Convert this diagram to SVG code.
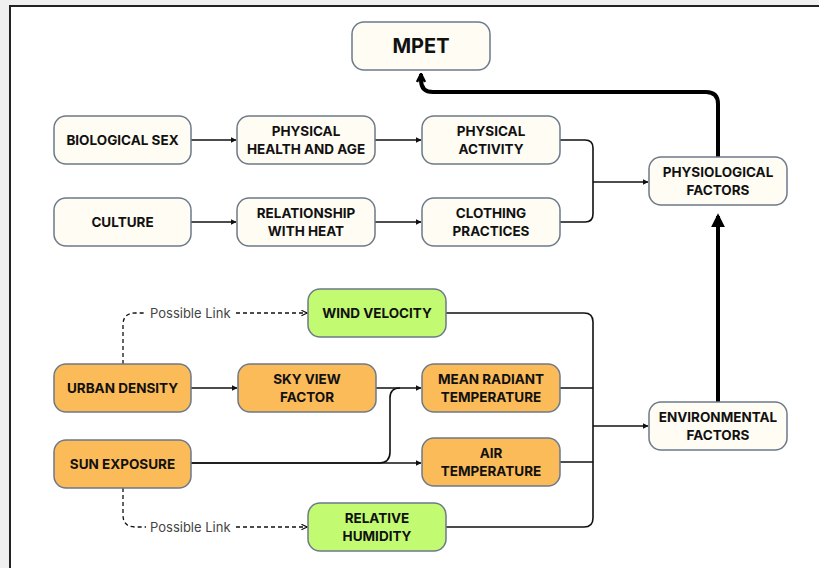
<svg xmlns="http://www.w3.org/2000/svg" width="819" height="568" viewBox="0 0 819 568">
<defs>
<style>
.n{stroke:#6c7a89;stroke-width:1.5}
.c{fill:#fffcf4}
.o{fill:#fbbb58}
.g{fill:#c2fb72}
.t{font-family:Inter,"Liberation Sans",Arial,sans-serif;font-weight:700;font-size:13.5px;fill:#111;text-anchor:middle}
.l{fill:none;stroke:#111;stroke-width:1.6}
.k{fill:none;stroke:#000;stroke-width:4}
.d{fill:none;stroke:#111;stroke-width:1.3;stroke-dasharray:4 3}
.p{font-family:Inter,"Liberation Sans",Arial,sans-serif;font-size:13px;fill:#444}
</style>
<marker id="a" viewBox="0 0 10 10" refX="9" refY="5" markerWidth="6" markerHeight="6" markerUnits="userSpaceOnUse" orient="auto"><path d="M0,0L10,5L0,10z" fill="#111"/></marker>
<marker id="b" viewBox="0 0 10 10" refX="8" refY="5" markerWidth="14" markerHeight="14" markerUnits="userSpaceOnUse" orient="auto"><path d="M0,0L10,5L0,10z" fill="#000"/></marker>
<marker id="v" viewBox="0 0 10 10" refX="9" refY="5" markerWidth="10" markerHeight="10" markerUnits="userSpaceOnUse" orient="auto"><path d="M1,1L9,5L1,9" fill="none" stroke="#000" stroke-width="2.5"/></marker>
<marker id="dv" viewBox="0 0 10 10" refX="9" refY="5" markerWidth="7" markerHeight="7" markerUnits="userSpaceOnUse" orient="auto"><path d="M1,1L9,5L1,9" fill="none" stroke="#111" stroke-width="1.6"/></marker>
</defs>
<rect width="819" height="568" fill="#f0f0f0"/>
<rect x="10" y="6" width="820" height="580" fill="#fff" stroke="#222" stroke-width="2"/>
<g id="connectors">
<path class="l" d="M191,140H236" marker-end="url(#a)"/>
<path class="l" d="M375,140H421" marker-end="url(#a)"/>
<path class="l" d="M191,222H236" marker-end="url(#a)"/>
<path class="l" d="M375,222H421" marker-end="url(#a)"/>
<path class="l" d="M560,140H585Q593,140 593,148V214Q593,222 585,222H560"/>
<path class="l" d="M593,182H648" marker-end="url(#a)"/>
<path class="k" d="M718,157V104Q718,92 706,92H433Q421,92 421,80V74" marker-end="url(#v)"/>
<path class="k" d="M718,402V216" marker-end="url(#b)"/>
<path class="l" d="M191,388H237" marker-end="url(#a)"/>
<path class="l" d="M376,388H421" marker-end="url(#a)"/>
<path class="l" d="M191,463H379Q390,463 390,452V398Q390,388 400,388"/>
<path class="l" d="M191,463H421" marker-end="url(#a)"/>
<path class="l" d="M446,313H584Q593,313 593,322V518Q593,527 584,527H446"/>
<path class="l" d="M560,388H593"/>
<path class="l" d="M560,462H593"/>
<path class="l" d="M593,426H648" marker-end="url(#a)"/>
<path class="d" d="M123,364V325Q123,313 135,313H146"/>
<path class="d" d="M236,313H307" marker-end="url(#dv)"/>
<path class="d" d="M123,488V515Q123,527 135,527H146"/>
<path class="d" d="M236,527H307" marker-end="url(#dv)"/>
<text class="p" x="150" y="317.5">Possible Link</text>
<text class="p" x="150" y="531.5">Possible Link</text>
</g>
<g id="mpet"><rect class="n c" x="352" y="22" width="138" height="48" rx="12"/><text class="t" x="421" y="53" style="font-size:20px">MPET</text></g>
<g id="biosex"><rect class="n c" x="54" y="116" width="137" height="48" rx="12"/><text class="t" x="122.5" y="145">BIOLOGICAL SEX</text></g>
<g id="health"><rect class="n c" x="237" y="116" width="138" height="48" rx="12"/><text class="t" x="306" y="136">PHYSICAL</text><text class="t" x="306" y="154">HEALTH AND AGE</text></g>
<g id="activity"><rect class="n c" x="422" y="116" width="138" height="48" rx="12"/><text class="t" x="491" y="136">PHYSICAL</text><text class="t" x="491" y="154">ACTIVITY</text></g>
<g id="culture"><rect class="n c" x="54" y="198" width="137" height="48" rx="12"/><text class="t" x="122.5" y="227">CULTURE</text></g>
<g id="relationship"><rect class="n c" x="237" y="198" width="138" height="48" rx="12"/><text class="t" x="306" y="218">RELATIONSHIP</text><text class="t" x="306" y="236">WITH HEAT</text></g>
<g id="clothing"><rect class="n c" x="422" y="198" width="138" height="48" rx="12"/><text class="t" x="491" y="218">CLOTHING</text><text class="t" x="491" y="236">PRACTICES</text></g>
<g id="physiological"><rect class="n c" x="649" y="157" width="138" height="48" rx="12"/><text class="t" x="718" y="177">PHYSIOLOGICAL</text><text class="t" x="718" y="195">FACTORS</text></g>
<g id="wind"><rect class="n g" x="308" y="289" width="138" height="48" rx="12"/><text class="t" x="377" y="318">WIND VELOCITY</text></g>
<g id="urban"><rect class="n o" x="54" y="364" width="137" height="48" rx="12"/><text class="t" x="122.5" y="393">URBAN DENSITY</text></g>
<g id="skyview"><rect class="n o" x="238" y="364" width="138" height="48" rx="12"/><text class="t" x="307" y="384">SKY VIEW</text><text class="t" x="307" y="402">FACTOR</text></g>
<g id="mrt"><rect class="n o" x="422" y="364" width="138" height="48" rx="12"/><text class="t" x="491" y="384">MEAN RADIANT</text><text class="t" x="491" y="402">TEMPERATURE</text></g>
<g id="sun"><rect class="n o" x="54" y="440" width="137" height="48" rx="12"/><text class="t" x="122.5" y="469">SUN EXPOSURE</text></g>
<g id="airtemp"><rect class="n o" x="422" y="438" width="138" height="48" rx="12"/><text class="t" x="491" y="458">AIR</text><text class="t" x="491" y="476">TEMPERATURE</text></g>
<g id="humidity"><rect class="n g" x="308" y="503" width="138" height="48" rx="12"/><text class="t" x="377" y="523">RELATIVE</text><text class="t" x="377" y="541">HUMIDITY</text></g>
<g id="environmental"><rect class="n c" x="649" y="402" width="138" height="48" rx="12"/><text class="t" x="718" y="422">ENVIRONMENTAL</text><text class="t" x="718" y="440">FACTORS</text></g>
</svg>
